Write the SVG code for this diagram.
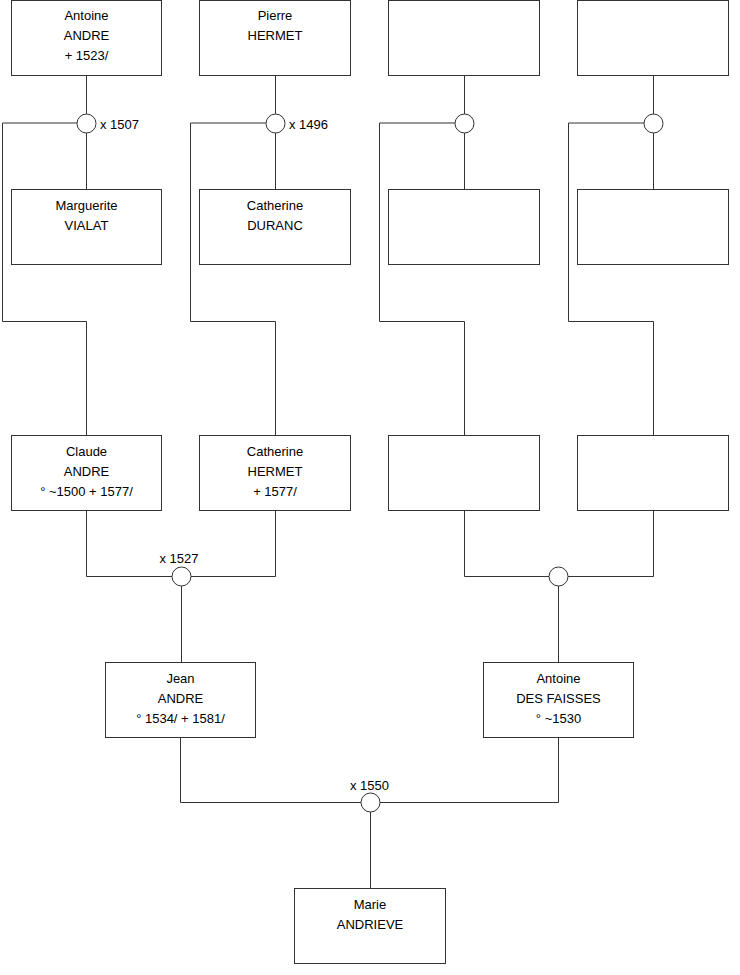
<svg xmlns="http://www.w3.org/2000/svg" width="740" height="975" viewBox="0 0 740 975">
<style>
.box{fill:#fff;stroke:#333;stroke-width:1}
.c{fill:#fff;stroke:#333;stroke-width:1}
.ln{fill:none;stroke:#333;stroke-width:1}
text{font-family:"Liberation Sans",Arial,sans-serif;font-size:13px;fill:#000}
.m{text-anchor:middle}
</style>
<rect width="740" height="975" fill="#fff"/>
<g id="connectors">
<path class="ln" d="M86.5,76 V189 M86.5,123 H2.5 V321.5 H86.5 V435"/>
<path class="ln" d="M275.5,76 V189 M275.5,123 H190.5 V321.5 H275.5 V435"/>
<path class="ln" d="M464.5,76 V189 M464.5,123 H379.5 V321.5 H464.5 V435"/>
<path class="ln" d="M653.5,76 V189 M653.5,123 H568.5 V321.5 H653.5 V435"/>
<path class="ln" d="M86.5,510 V576.5 H275.5 V510 M181.5,576.5 V662"/>
<path class="ln" d="M464.5,510 V576.5 H653.5 V510 M558.5,576.5 V662"/>
<path class="ln" d="M180.5,737 V802.5 H558.5 V737 M370.5,802.5 V888"/>
</g>
<g id="u1"><circle class="c" cx="86.5" cy="123.5" r="9.5"/><text x="100" y="128.5">x 1507</text></g>
<g id="u2"><circle class="c" cx="275.5" cy="123.5" r="9.5"/><text x="289" y="128.5">x 1496</text></g>
<g id="u3"><circle class="c" cx="464.5" cy="123.5" r="9.5"/></g>
<g id="u4"><circle class="c" cx="653.5" cy="123.5" r="9.5"/></g>
<g id="u5"><circle class="c" cx="181.5" cy="576.5" r="9.5"/><text class="m" x="179" y="562.5">x 1527</text></g>
<g id="u6"><circle class="c" cx="558.5" cy="576.5" r="9.5"/></g>
<g id="u7"><circle class="c" cx="370.5" cy="802.5" r="9.5"/><text class="m" x="369.5" y="789.5">x 1550</text></g>
<g id="antoine-andre"><rect class="box" x="11.5" y="0.5" width="150" height="75"/><text class="m" x="86.5" y="20">Antoine</text><text class="m" x="86.5" y="40">ANDRE</text><text class="m" x="86.5" y="60">+ 1523/</text></g>
<g id="pierre-hermet"><rect class="box" x="199.5" y="0.5" width="151" height="75"/><text class="m" x="275" y="20">Pierre</text><text class="m" x="275" y="40">HERMET</text></g>
<g id="p3"><rect class="box" x="388.5" y="0.5" width="151" height="75"/></g>
<g id="p4"><rect class="box" x="577.5" y="0.5" width="151" height="75"/></g>
<g id="marguerite-vialat"><rect class="box" x="11.5" y="189.5" width="150" height="75"/><text class="m" x="86.5" y="210">Marguerite</text><text class="m" x="86.5" y="230">VIALAT</text></g>
<g id="catherine-duranc"><rect class="box" x="199.5" y="189.5" width="151" height="75"/><text class="m" x="275" y="210">Catherine</text><text class="m" x="275" y="230">DURANC</text></g>
<g id="p7"><rect class="box" x="388.5" y="189.5" width="151" height="75"/></g>
<g id="p8"><rect class="box" x="577.5" y="189.5" width="151" height="75"/></g>
<g id="claude-andre"><rect class="box" x="11.5" y="435.5" width="150" height="75"/><text class="m" x="86.5" y="455.5">Claude</text><text class="m" x="86.5" y="475.5">ANDRE</text><text class="m" x="86.5" y="495.5">° ~1500 + 1577/</text></g>
<g id="catherine-hermet"><rect class="box" x="199.5" y="435.5" width="151" height="75"/><text class="m" x="275" y="455.5">Catherine</text><text class="m" x="275" y="475.5">HERMET</text><text class="m" x="275" y="495.5">+ 1577/</text></g>
<g id="p11"><rect class="box" x="388.5" y="435.5" width="151" height="75"/></g>
<g id="p12"><rect class="box" x="577.5" y="435.5" width="151" height="75"/></g>
<g id="jean-andre"><rect class="box" x="105.5" y="662.5" width="150" height="75"/><text class="m" x="180.5" y="682.5">Jean</text><text class="m" x="180.5" y="702.5">ANDRE</text><text class="m" x="180.5" y="722.5">° 1534/ + 1581/</text></g>
<g id="antoine-des-faisses"><rect class="box" x="483.5" y="662.5" width="150" height="75"/><text class="m" x="558.5" y="682.5">Antoine</text><text class="m" x="558.5" y="702.5">DES FAISSES</text><text class="m" x="558.5" y="722.5">° ~1530</text></g>
<g id="marie-andrieve"><rect class="box" x="294.5" y="888.5" width="151" height="75"/><text class="m" x="370" y="909">Marie</text><text class="m" x="370" y="929">ANDRIEVE</text></g>
</svg>
